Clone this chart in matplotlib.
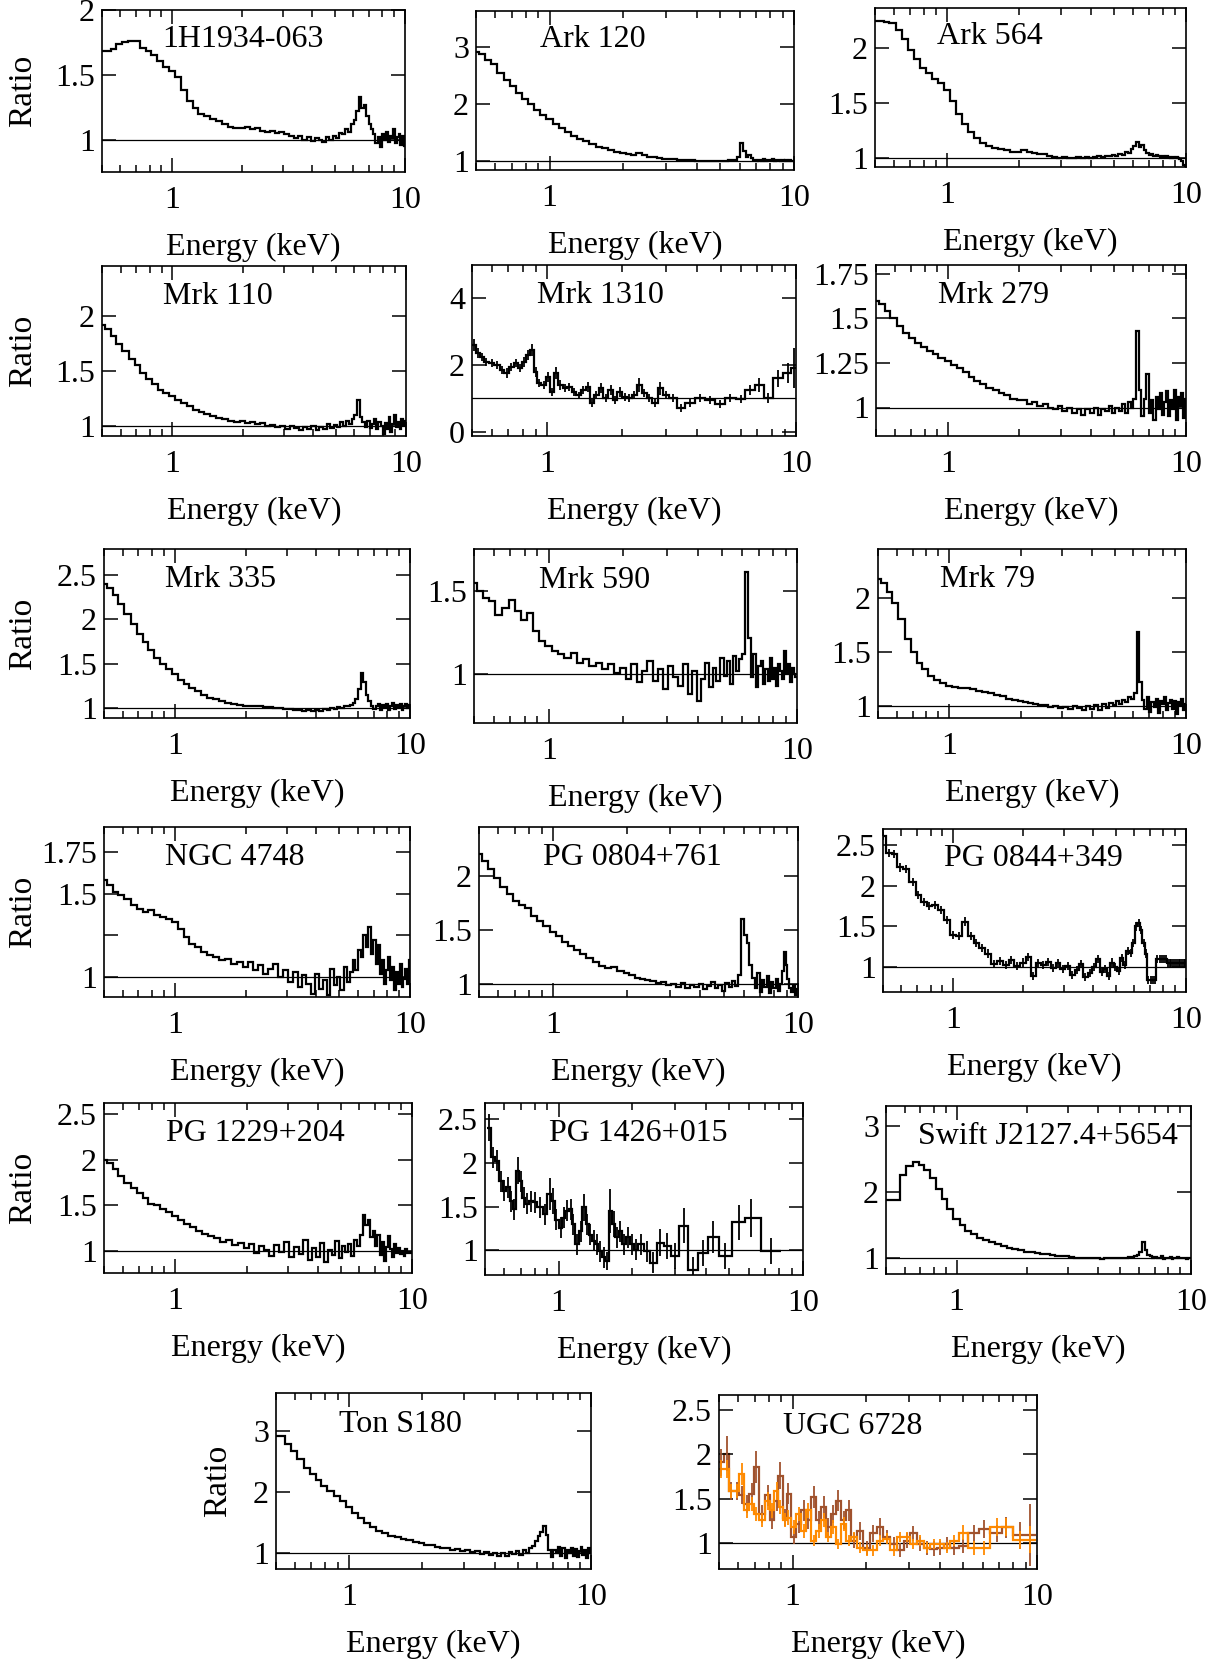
import numpy as np
import matplotlib
matplotlib.use("Agg")
import matplotlib.pyplot as plt
from matplotlib.ticker import LogLocator, NullFormatter

plt.rcParams["font.family"] = ["Liberation Serif", "DejaVu Serif"]

W, H = 1222, 1663

# ---------------------------------------------------------------
# data: energy grid (keV) shared by the finely binned spectra
# ---------------------------------------------------------------
E_GRID = [
    0.50, 0.53, 0.56, 0.59, 0.63, 0.67, 0.71, 0.75, 0.79,
    0.84, 0.89, 0.94, 1.00, 1.06, 1.12, 1.19, 1.26, 1.33, 1.41, 1.50, 1.59, 1.68, 1.78, 1.89,
    2.00, 2.10, 2.21, 2.32, 2.44, 2.56, 2.69, 2.82, 2.96, 3.10, 3.25, 3.40, 3.55, 3.70,
    3.86, 4.02, 4.18, 4.34, 4.50, 4.66, 4.82, 4.98, 5.14, 5.30, 5.46, 5.62, 5.78, 5.94, 6.10,
    6.26, 6.42, 6.58, 6.74, 6.90, 7.06, 7.22, 7.38, 7.54, 7.70, 7.86, 8.02, 8.18, 8.34, 8.50,
    8.66, 8.82, 8.98, 9.14, 9.30, 9.46, 9.62, 9.78, 9.94,
]

R_1H1934 = [
    1.68, 1.68, 1.70, 1.74, 1.75, 1.76, 1.76, 1.71, 1.68,
    1.65, 1.61, 1.56, 1.53, 1.48, 1.38, 1.30, 1.24, 1.20, 1.18, 1.16, 1.14, 1.12, 1.10, 1.09,
    1.09, 1.10, 1.08, 1.09, 1.07, 1.06, 1.07, 1.05, 1.06, 1.04, 1.03, 1.01, 1.03, 1.00,
    1.02, 0.99, 1.01, 1.00, 0.98, 1.02, 1.00, 1.03, 1.01, 1.05, 1.04, 1.08, 1.06, 1.12, 1.15,
    1.22, 1.33, 1.24, 1.27, 1.18, 1.12, 1.08, 1.04, 0.97, 1.02, 0.94, 1.04, 1.00, 1.06, 0.98,
    1.03, 1.01, 1.08, 0.97, 1.02, 1.04, 0.96, 1.03, 0.95,
]

R_ARK120 = [
    2.92, 2.88, 2.78, 2.70, 2.55, 2.42, 2.32, 2.20, 2.10,
    2.00, 1.90, 1.82, 1.74, 1.66, 1.58, 1.51, 1.45, 1.40, 1.35, 1.30, 1.26, 1.23, 1.20, 1.17,
    1.15, 1.13, 1.12, 1.14, 1.11, 1.08, 1.07, 1.06, 1.05, 1.04, 1.04, 1.03, 1.02, 1.02,
    1.02, 1.01, 1.01, 1.00, 1.01, 1.00, 1.01, 1.00, 1.01, 1.01, 1.02, 1.02, 1.03, 1.08, 1.32,
    1.18, 1.08, 1.12, 1.06, 1.02, 1.01, 1.03, 1.00, 1.04, 1.01, 1.03, 1.02, 1.05, 1.01, 1.02,
    1.03, 1.00, 1.02, 1.01, 1.03, 1.00, 1.02, 1.01, 1.00,
]

R_ARK564 = [
    2.24, 2.24, 2.23, 2.22, 2.16, 2.08, 1.98, 1.90, 1.82,
    1.77, 1.72, 1.68, 1.62, 1.52, 1.40, 1.31, 1.24, 1.18, 1.14, 1.11, 1.09, 1.08, 1.07, 1.06,
    1.06, 1.07, 1.06, 1.05, 1.04, 1.04, 1.02, 1.01, 1.00, 1.01, 1.00, 1.00, 1.01, 1.00,
    1.01, 1.00, 1.01, 1.02, 1.01, 1.02, 1.02, 1.03, 1.02, 1.04, 1.03, 1.06, 1.05, 1.08, 1.11,
    1.15, 1.10, 1.12, 1.07, 1.05, 1.03, 1.04, 1.02, 1.03, 1.02, 1.01, 1.02, 1.01, 1.02, 1.01,
    1.00, 1.01, 1.00, 1.01, 1.00, 0.99, 0.97, 0.94, 0.93,
]

R_MRK110 = [
    1.92, 1.88, 1.82, 1.74, 1.68, 1.61, 1.55, 1.48, 1.43,
    1.38, 1.33, 1.30, 1.27, 1.24, 1.21, 1.18, 1.15, 1.13, 1.11, 1.09, 1.07, 1.06, 1.05, 1.04,
    1.05, 1.03, 1.04, 1.02, 1.03, 1.00, 1.01, 0.99, 1.00, 0.97, 1.00, 0.98, 0.96, 0.99,
    0.97, 1.00, 0.96, 0.99, 0.97, 1.02, 0.98, 1.01, 0.99, 1.04, 1.00, 1.05, 1.02, 1.06, 1.10,
    1.24, 1.08, 1.04, 0.99, 1.05, 0.98, 1.02, 1.06, 0.97, 1.04, 1.00, 0.93, 1.03, 0.97, 1.08,
    0.95, 1.02, 1.10, 0.99, 1.04, 0.97, 1.06, 1.01, 1.05,
]

R_MRK279 = [
    1.60, 1.58, 1.54, 1.50, 1.46, 1.42, 1.39, 1.36, 1.34,
    1.32, 1.30, 1.28, 1.26, 1.24, 1.22, 1.20, 1.17, 1.15, 1.13, 1.11, 1.10, 1.08, 1.07, 1.05,
    1.04, 1.04, 1.02, 1.03, 1.01, 1.02, 1.00, 0.99, 1.01, 0.98, 1.00, 0.97, 0.99, 0.96,
    0.99, 0.97, 1.00, 0.96, 0.99, 0.98, 1.01, 0.97, 1.00, 0.98, 1.02, 0.97, 1.03, 1.00, 1.05,
    1.43, 1.10, 0.95, 1.05, 1.19, 0.97, 1.04, 0.93, 1.06, 0.99, 1.08, 0.96, 1.03, 1.09, 0.95,
    1.04, 0.99, 1.10, 0.93, 1.06, 1.01, 1.08, 0.94, 1.05,
]

R_MRK335 = [
    2.40, 2.35, 2.27, 2.17, 2.06, 1.95, 1.84, 1.74, 1.66,
    1.57, 1.50, 1.44, 1.38, 1.32, 1.27, 1.23, 1.19, 1.15, 1.12, 1.10, 1.08, 1.06, 1.05, 1.04,
    1.03, 1.03, 1.02, 1.02, 1.01, 1.01, 1.00, 1.00, 0.99, 0.99, 0.98, 0.98, 0.97, 0.98,
    0.97, 0.98, 0.97, 0.99, 0.98, 1.00, 0.99, 1.01, 1.00, 1.02, 1.03, 1.04, 1.06, 1.10, 1.22,
    1.40, 1.30, 1.15, 1.08, 1.02, 0.99, 1.03, 1.05, 0.98, 1.04, 1.01, 1.05, 0.98, 1.03, 1.06,
    0.99, 1.04, 1.01, 1.05, 0.98, 1.03, 1.05, 1.00, 1.04,
]

R_MRK590 = [
    1.55, 1.50, 1.46, 1.44, 1.36, 1.40, 1.45, 1.38, 1.33,
    1.37, 1.26, 1.20, 1.17, 1.14, 1.12, 1.10, 1.13, 1.07, 1.09, 1.05, 1.07, 1.03, 1.06, 1.01,
    1.04, 0.97, 1.06, 0.95, 1.02, 1.08, 0.96, 1.03, 0.91, 1.05, 0.98, 0.93, 1.06, 0.88,
    1.02, 0.84, 0.97, 1.07, 0.92, 1.04, 0.96, 1.10, 0.99, 1.08, 0.94, 1.11, 1.02, 1.09, 1.12,
    1.62, 1.22, 0.98, 1.12, 0.92, 1.05, 1.08, 0.94, 1.03, 0.96, 1.10, 0.97, 1.04, 0.93, 1.06,
    1.02, 0.97, 1.14, 1.01, 1.06, 0.95, 1.04, 1.00, 0.98,
]

R_MRK79 = [
    2.17, 2.14, 2.05, 1.95, 1.80, 1.62, 1.50, 1.40, 1.34,
    1.28, 1.24, 1.21, 1.19, 1.18, 1.17, 1.17, 1.16, 1.14, 1.13, 1.12, 1.10, 1.09, 1.07, 1.06,
    1.05, 1.04, 1.03, 1.02, 1.01, 1.01, 0.99, 1.00, 0.98, 0.99, 0.97, 1.00, 0.98, 0.96,
    1.00, 0.97, 1.01, 0.96, 1.02, 0.98, 1.03, 1.01, 1.05, 1.02, 1.06, 1.04, 1.08, 1.07, 1.12,
    1.68, 1.22, 1.06, 0.97, 1.08, 0.95, 1.04, 0.99, 1.07, 0.94, 1.05, 1.02, 1.08, 0.96, 1.03,
    1.06, 0.97, 1.05, 0.93, 1.04, 1.01, 1.07, 0.96, 1.02,
]

R_NGC4748 = [
    1.58, 1.55, 1.51, 1.49, 1.47, 1.43, 1.41, 1.39, 1.40,
    1.37, 1.36, 1.35, 1.33, 1.29, 1.24, 1.20, 1.18, 1.15, 1.13, 1.12, 1.10, 1.11, 1.08, 1.09,
    1.06, 1.09, 1.04, 1.07, 1.02, 1.05, 1.08, 1.00, 1.04, 0.97, 1.03, 0.94, 1.01, 0.96,
    0.90, 1.02, 0.93, 0.98, 0.89, 1.05, 0.95, 1.00, 0.92, 1.06, 0.97, 1.03, 1.10, 1.04, 1.16,
    1.12, 1.25, 1.18, 1.30, 1.14, 1.22, 1.08, 1.19, 1.02, 1.10, 0.96, 1.04, 1.12, 0.98, 1.06,
    0.92, 1.03, 0.96, 1.08, 0.94, 0.99, 1.05, 0.96, 1.10,
]

R_PG0804 = [
    2.20, 2.14, 2.06, 1.98, 1.90, 1.83, 1.77, 1.73, 1.70,
    1.63, 1.58, 1.54, 1.48, 1.44, 1.39, 1.35, 1.31, 1.28, 1.24, 1.20, 1.17, 1.15, 1.16, 1.12,
    1.10, 1.08, 1.06, 1.05, 1.04, 1.03, 1.01, 1.02, 0.99, 1.00, 0.97, 1.01, 0.96, 0.99,
    0.97, 1.00, 0.95, 0.98, 1.02, 0.96, 0.99, 0.94, 1.01, 0.97, 1.03, 0.98, 1.08, 1.60, 1.45,
    1.38, 1.18, 1.06, 0.96, 1.10, 0.93, 1.04, 0.97, 1.07, 0.92, 1.02, 0.96, 1.05, 0.94, 1.00,
    1.12, 1.30, 1.18, 1.05, 0.96, 0.93, 0.98, 0.90, 0.95,
]

R_PG0844 = [
    2.60, 2.40, 2.38, 2.22, 2.20, 2.04, 1.88, 1.80, 1.75,
    1.76, 1.70, 1.58, 1.40, 1.38, 1.56, 1.38, 1.30, 1.24, 1.17, 1.04, 1.08, 1.03, 1.09, 1.02,
    1.06, 1.13, 0.90, 1.05, 1.03, 1.07, 0.99, 1.05, 0.98, 1.02, 0.91, 0.97, 1.04, 0.88,
    0.93, 1.01, 1.10, 0.94, 0.98, 0.90, 1.06, 1.01, 0.96, 1.12, 1.03, 1.20, 1.18, 1.30, 1.50,
    1.54, 1.46, 1.30, 1.17, 0.85, 0.85, 0.85, 0.85, 1.10, 1.10, 1.10, 1.10, 1.10, 1.05, 1.05,
    1.05, 1.05, 1.05, 1.05, 1.05, 1.05, 1.05, 1.05, 1.05,
]
ERR_PG0844 = 0.05

R_PG1229 = [
    2.00, 1.96, 1.90, 1.82, 1.75, 1.69, 1.64, 1.58, 1.52,
    1.50, 1.46, 1.43, 1.38, 1.34, 1.30, 1.26, 1.22, 1.19, 1.16, 1.14, 1.10, 1.12, 1.07, 1.09,
    1.03, 1.08, 0.98, 1.06, 1.01, 0.95, 1.07, 0.99, 1.10, 0.93, 1.04, 0.97, 1.12, 0.90,
    1.03, 0.94, 1.09, 0.88, 1.01, 0.96, 1.11, 0.92, 1.05, 0.99, 1.08, 0.95, 1.12, 1.06, 1.18,
    1.40, 1.28, 1.34, 1.15, 1.22, 1.06, 1.18, 0.96, 1.10, 0.89, 1.04, 1.17, 1.02, 0.94, 1.08,
    0.98, 1.03, 0.97, 1.00, 0.95, 1.02, 0.98, 0.98, 0.99,
]

R_SWIFT = [
    1.88, 1.88, 1.88, 2.26, 2.40, 2.46, 2.42, 2.34, 2.22,
    2.05, 1.90, 1.75, 1.60, 1.50, 1.42, 1.36, 1.31, 1.27, 1.24, 1.21, 1.18, 1.16, 1.14, 1.12,
    1.10, 1.09, 1.08, 1.07, 1.06, 1.05, 1.04, 1.03, 1.03, 1.02, 1.01, 1.01, 1.00, 1.01,
    1.00, 1.00, 0.99, 1.00, 1.00, 1.01, 1.00, 1.00, 1.01, 1.01, 1.02, 1.02, 1.03, 1.05, 1.10,
    1.25, 1.12, 1.05, 1.03, 1.00, 1.02, 1.00, 1.01, 1.03, 0.99, 1.01, 1.00, 1.02, 0.99, 1.01,
    1.00, 1.02, 1.00, 1.00, 1.01, 1.00, 0.99, 1.01, 1.00,
]

R_TONS180 = [
    2.92, 2.92, 2.80, 2.68, 2.54, 2.40, 2.30, 2.20, 2.10,
    2.02, 1.94, 1.86, 1.76, 1.66, 1.58, 1.50, 1.43, 1.37, 1.33, 1.29, 1.26, 1.23, 1.21, 1.18,
    1.16, 1.13, 1.14, 1.10, 1.08, 1.09, 1.06, 1.07, 1.04, 1.05, 1.02, 1.04, 0.99, 1.02,
    0.97, 1.01, 0.96, 1.00, 0.95, 1.02, 0.98, 1.03, 0.97, 1.05, 1.00, 1.08, 1.12, 1.20, 1.28,
    1.35, 1.45, 1.30, 1.05, 0.93, 1.06, 1.00, 1.10, 0.95, 1.08, 0.92, 1.05, 1.01, 1.09, 0.96,
    1.07, 0.94, 1.04, 1.10, 0.97, 1.06, 0.92, 1.08, 1.00,
]

# coarsely binned spectra with error bars
E_MRK1310 = [
    0.51, 0.53, 0.55, 0.57, 0.60, 0.63, 0.66, 0.69, 0.72, 0.75,
    0.78, 0.81, 0.84, 0.87, 0.90, 0.93, 0.97, 1.01, 1.05, 1.09,
    1.13, 1.18, 1.23, 1.28, 1.34, 1.40, 1.46, 1.52, 1.58, 1.65,
    1.72, 1.80, 1.88, 1.96, 2.05, 2.14, 2.24, 2.35, 2.46, 2.58,
    2.71, 2.85, 3.00, 3.20, 3.45, 3.75, 4.10, 4.50, 4.95, 5.45,
    6.00, 6.55, 7.10, 7.75, 8.50, 9.30, 9.85,
]
R_MRK1310 = [
    2.60, 2.35, 2.25, 2.10, 2.05, 2.00, 1.85, 1.75, 1.95, 2.05,
    1.90, 2.10, 2.30, 2.45, 1.80, 1.45, 1.40, 1.65, 1.20, 1.75,
    1.40, 1.30, 1.35, 1.20, 1.10, 1.25, 1.35, 0.85, 1.10, 1.30,
    1.00, 1.25, 0.95, 1.20, 1.05, 1.00, 1.10, 1.40, 1.15, 1.00,
    0.85, 1.30, 1.10, 1.00, 0.70, 0.85, 1.00, 0.95, 0.82, 1.00,
    0.98, 1.25, 1.40, 1.00, 1.60, 1.75, 1.90,
]
ERR_MRK1310 = [
    0.18, 0.15, 0.12, 0.12, 0.12, 0.12, 0.12, 0.15, 0.12, 0.12,
    0.12, 0.15, 0.15, 0.18, 0.15, 0.12, 0.12, 0.15, 0.12, 0.18,
    0.15, 0.12, 0.12, 0.12, 0.10, 0.12, 0.15, 0.12, 0.12, 0.15,
    0.12, 0.15, 0.12, 0.15, 0.12, 0.12, 0.12, 0.20, 0.12, 0.12,
    0.12, 0.20, 0.12, 0.12, 0.12, 0.12, 0.12, 0.12, 0.12, 0.12,
    0.12, 0.15, 0.20, 0.15, 0.25, 0.30, 0.60,
]

E_PG1426 = [
    0.52, 0.54, 0.56, 0.58, 0.60, 0.62, 0.64, 0.66, 0.68, 0.70,
    0.72, 0.74, 0.77, 0.80, 0.84, 0.88, 0.92, 0.95, 0.98, 1.02,
    1.05, 1.08, 1.12, 1.15, 1.19, 1.23, 1.27, 1.31, 1.35, 1.39,
    1.43, 1.48, 1.53, 1.58, 1.63, 1.68, 1.73, 1.79, 1.85, 1.92,
    1.99, 2.07, 2.17, 2.29, 2.44, 2.60, 2.78, 3.00, 3.25, 3.55,
    3.90, 4.30, 4.80, 5.45, 6.15, 7.40,
]
R_PG1426 = [
    2.40, 2.06, 2.02, 1.79, 1.68, 1.72, 1.56, 1.47, 1.91, 1.79,
    1.60, 1.53, 1.56, 1.55, 1.49, 1.41, 1.64, 1.56, 1.35, 1.26,
    1.37, 1.45, 1.47, 1.30, 1.07, 1.22, 1.49, 1.30, 1.18, 1.11,
    1.07, 0.99, 0.92, 0.88, 1.45, 1.30, 1.15, 1.22, 1.07, 1.15,
    1.07, 1.01, 1.07, 0.99, 0.86, 1.09, 1.05, 0.94, 1.28, 0.78,
    0.97, 1.15, 0.94, 1.32, 1.37, 0.99,
]
ERR_PG1426 = [
    0.15, 0.12, 0.12, 0.12, 0.12, 0.12, 0.12, 0.12, 0.15, 0.12,
    0.12, 0.12, 0.12, 0.12, 0.12, 0.12, 0.18, 0.15, 0.12, 0.12,
    0.12, 0.12, 0.12, 0.12, 0.12, 0.12, 0.15, 0.12, 0.12, 0.12,
    0.12, 0.12, 0.12, 0.10, 0.25, 0.15, 0.12, 0.12, 0.12, 0.12,
    0.12, 0.12, 0.12, 0.12, 0.12, 0.15, 0.15, 0.15, 0.20, 0.15,
    0.15, 0.18, 0.15, 0.20, 0.22, 0.15,
]

E_UGC6728 = [
    0.51, 0.54, 0.56, 0.59, 0.62, 0.65, 0.68, 0.71, 0.75, 0.79,
    0.82, 0.86, 0.89, 0.93, 0.96, 1.01, 1.06, 1.11, 1.16, 1.22,
    1.28, 1.34, 1.40, 1.47, 1.54, 1.62, 1.70, 1.78, 1.89, 2.01,
    2.14, 2.28, 2.43, 2.59, 2.76, 2.94, 3.12, 3.33, 3.54, 3.78,
    4.02, 4.28, 4.56, 5.00, 5.50, 6.05, 6.85, 7.50, 8.50, 9.40,
]
R_UGC6728_A = [
    1.91, 2.01, 1.59, 1.59, 1.54, 1.44, 1.56, 1.86, 1.33, 1.54,
    1.26, 1.48, 1.76, 1.29, 1.56, 1.07, 1.22, 1.37, 1.26, 1.52,
    1.26, 1.41, 1.18, 1.33, 1.48, 1.26, 1.37, 1.03, 1.14, 0.95,
    1.11, 1.18, 1.07, 0.99, 0.92, 1.03, 1.11, 0.99, 0.95, 0.94,
    0.95, 0.99, 0.95, 0.97, 1.11, 1.16, 1.11, 1.18, 1.09, 1.09,
]
ERR_UGC6728_A = [
    0.15, 0.20, 0.10, 0.10, 0.10, 0.10, 0.12, 0.18, 0.10, 0.12,
    0.10, 0.12, 0.15, 0.10, 0.12, 0.08, 0.10, 0.12, 0.10, 0.12,
    0.10, 0.12, 0.10, 0.10, 0.12, 0.10, 0.12, 0.08, 0.10, 0.08,
    0.10, 0.10, 0.08, 0.08, 0.08, 0.08, 0.08, 0.08, 0.08, 0.08,
    0.08, 0.08, 0.08, 0.08, 0.10, 0.10, 0.10, 0.12, 0.15, 0.35,
]
R_UGC6728_B = [
    1.84, 1.84, 1.59, 1.59, 1.78, 1.37, 1.44, 1.33, 1.26, 1.48,
    1.37, 1.59, 1.41, 1.26, 1.29, 1.18, 1.33, 1.14, 1.37, 1.03,
    1.14, 1.26, 1.07, 1.18, 0.99, 1.22, 1.03, 1.07, 0.95, 0.92,
    0.92, 1.03, 1.05, 0.92, 1.07, 1.07, 0.99, 1.03, 0.95, 0.99,
    0.99, 0.95, 1.03, 1.12, 0.95, 0.95, 1.18, 1.18, 1.04, 1.04,
]
ERR_UGC6728_B = [
    0.10, 0.10, 0.08, 0.08, 0.12, 0.08, 0.08, 0.08, 0.08, 0.10,
    0.08, 0.10, 0.08, 0.08, 0.08, 0.08, 0.08, 0.08, 0.08, 0.06,
    0.08, 0.08, 0.06, 0.08, 0.06, 0.08, 0.06, 0.06, 0.06, 0.06,
    0.06, 0.06, 0.06, 0.06, 0.06, 0.06, 0.06, 0.06, 0.06, 0.06,
    0.06, 0.06, 0.06, 0.08, 0.08, 0.08, 0.10, 0.10, 0.10, 0.15,
]

UGC_COLOR_A = "#a0522d"
UGC_COLOR_B = "#ff8a00"


def bin_edges(centres):
    c = np.asarray(centres, dtype=float)
    mids = np.sqrt(c[:-1] * c[1:])
    return np.concatenate([[c[0] ** 2 / mids[0]], mids, [c[-1] ** 2 / mids[-1]]])


def draw_spectrum(ax, energy, ratio, err=None, color="black"):
    ax.stairs(ratio, bin_edges(energy), baseline=None, color=color, lw=1.6)
    if err is not None:
        ax.errorbar(energy, ratio, yerr=err, fmt="none", ecolor=color,
                    elinewidth=1.3, capsize=0)


# panel layout: (name, box in pixels left/top/right/bottom, ylim, yticks, ylabels)
panels = [
    ("1H1934-063", (102, 10, 405, 172), (0.75, 2.0), [1, 1.5, 2], ["1", "1.5", "2"]),
    ("Ark 120", (476, 11, 794, 170), (0.85, 3.63), [1, 2, 3], ["1", "2", "3"]),
    ("Ark 564", (875, 8, 1186, 167), (0.92, 2.36), [1, 1.5, 2], ["1", "1.5", "2"]),
    ("Mrk 110", (102, 266, 406, 436), (0.91, 2.45), [1, 1.5, 2], ["1", "1.5", "2"]),
    ("Mrk 1310", (472, 265, 796, 436), (-0.13, 5.0), [0, 2, 4], ["0", "2", "4"]),
    ("Mrk 279", (876, 265, 1186, 436), (0.84, 1.80), [1, 1.25, 1.5, 1.75],
     ["1", "1.25", "1.5", "1.75"]),
    ("Mrk 335", (104, 549, 410, 718), (0.89, 2.79), [1, 1.5, 2, 2.5],
     ["1", "1.5", "2", "2.5"]),
    ("Mrk 590", (474, 549, 797, 723), (0.705, 1.756), [1, 1.5], ["1", "1.5"]),
    ("Mrk 79", (878, 549, 1186, 718), (0.89, 2.45), [1, 1.5, 2], ["1", "1.5", "2"]),
    ("NGC 4748", (104, 827, 410, 997), (0.88, 1.90), [1, 1.25, 1.5, 1.75],
     ["1", "", "1.5", "1.75"]),
    ("PG 0804+761", (479, 827, 798, 997), (0.88, 2.45), [1, 1.5, 2], ["1", "1.5", "2"]),
    ("PG 0844+349", (883, 829, 1186, 992), (0.70, 2.69), [1, 1.5, 2, 2.5],
     ["1", "1.5", "2", "2.5"]),
    ("PG 1229+204", (104, 1103, 412, 1273), (0.76, 2.62), [1, 1.5, 2, 2.5],
     ["1", "1.5", "2", "2.5"]),
    ("PG 1426+015", (485, 1103, 803, 1275), (0.72, 2.68), [1, 1.5, 2, 2.5],
     ["1", "1.5", "2", "2.5"]),
    ("Swift J2127.4+5654", (886, 1106, 1191, 1274), (0.76, 3.31), [1, 2, 3],
     ["1", "2", "3"]),
    ("Ton S180", (276, 1393, 591, 1569), (0.74, 3.63), [1, 2, 3], ["1", "2", "3"]),
    ("UGC 6728", (719, 1395, 1037, 1569), (0.71, 2.67), [1, 1.5, 2, 2.5],
     ["1", "1.5", "2", "2.5"]),
]

spectra = {
    "1H1934-063": (E_GRID, R_1H1934, None),
    "Ark 120": (E_GRID, R_ARK120, None),
    "Ark 564": (E_GRID, R_ARK564, None),
    "Mrk 110": (E_GRID, R_MRK110, None),
    "Mrk 1310": (E_MRK1310, R_MRK1310, ERR_MRK1310),
    "Mrk 279": (E_GRID, R_MRK279, None),
    "Mrk 335": (E_GRID, R_MRK335, None),
    "Mrk 590": (E_GRID, R_MRK590, None),
    "Mrk 79": (E_GRID, R_MRK79, None),
    "NGC 4748": (E_GRID, R_NGC4748, None),
    "PG 0804+761": (E_GRID, R_PG0804, None),
    "PG 0844+349": (E_GRID, R_PG0844, ERR_PG0844),
    "PG 1229+204": (E_GRID, R_PG1229, None),
    "PG 1426+015": (E_PG1426, R_PG1426, ERR_PG1426),
    "Swift J2127.4+5654": (E_GRID, R_SWIFT, None),
    "Ton S180": (E_GRID, R_TONS180, None),
}

ratio_label_x = {
    "1H1934-063": 23, "Mrk 110": 23, "Mrk 335": 23,
    "NGC 4748": 23, "PG 1229+204": 23, "Ton S180": 218,
}

fig = plt.figure(figsize=(W / 100, H / 100), dpi=100)

for name, (left, top, right, bottom), ylim, yticks, ylabels in panels:
    w_px = right - left
    h_px = bottom - top
    ax = fig.add_axes([left / W, 1 - bottom / H, w_px / W, h_px / H])

    if name == "UGC 6728":
        draw_spectrum(ax, E_UGC6728, R_UGC6728_A, ERR_UGC6728_A, UGC_COLOR_A)
        draw_spectrum(ax, E_UGC6728, R_UGC6728_B, ERR_UGC6728_B, UGC_COLOR_B)
    else:
        energy, ratio, err = spectra[name]
        draw_spectrum(ax, energy, ratio, err)

    ax.axhline(1, color="black", lw=0.9, zorder=0)

    ax.set_xscale("log")
    ax.set_xlim(0.5, 10)
    ax.set_ylim(ylim)
    ax.set_xticks([1, 10])
    ax.set_xticklabels(["1", "10"])
    ax.xaxis.set_minor_locator(LogLocator(subs=range(2, 10)))
    ax.xaxis.set_minor_formatter(NullFormatter())
    ax.set_yticks(yticks)
    ax.set_yticklabels(ylabels)

    ax.tick_params(which="both", direction="in", top=True, right=True,
                   width=1.1, labelsize=23)
    ax.tick_params(which="major", length=10)
    ax.tick_params(which="minor", length=5)
    ax.tick_params(axis="x", pad=10)
    ax.tick_params(axis="y", pad=5)
    for spine in ax.spines.values():
        spine.set_linewidth(1.2)

    ax.set_xlabel("Energy (keV)", fontsize=23)
    ax.xaxis.set_label_coords(0.5, -75 / h_px)
    ax.xaxis.label.set_va("center")

    if name in ratio_label_x:
        ax.set_ylabel("Ratio", fontsize=24)
        ax.yaxis.set_label_coords((ratio_label_x[name] - left) / w_px, 0.5)
        ax.yaxis.label.set_va("center")

    text_x = 0.104 if name.startswith("Swift") else 0.2
    ax.text(text_x, 0.82, name, transform=ax.transAxes, ha="left", va="center",
            fontsize=23)

fig.savefig("out.png", dpi=100)
